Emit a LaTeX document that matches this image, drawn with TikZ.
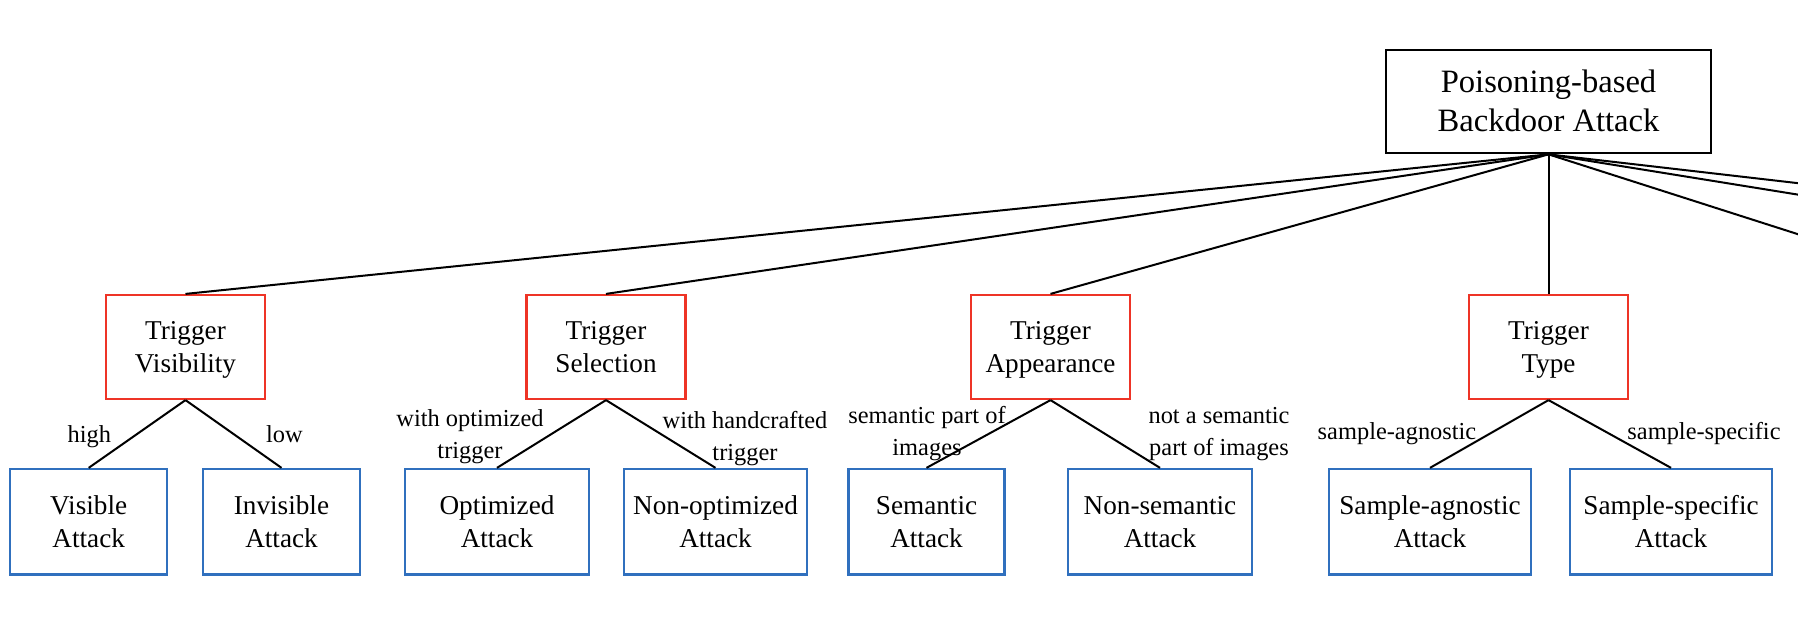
\documentclass[tikz,border=0pt]{standalone}
\usepackage{fontspec}
\setmainfont{Liberation Serif}
\definecolor{boxred}{RGB}{238,52,38}
\definecolor{boxblue}{RGB}{48,112,190}
\newcommand{\sline}[1]{\strut#1}
\newcommand{\rl}[1]{\rule[-3.5pt]{0pt}{17.5pt}#1}
\newcommand{\bl}[1]{\rule[-3.4pt]{0pt}{15.9pt}#1}
\begin{document}
\begin{tikzpicture}[x=0.5pt,y=-0.5pt,
  rootbox/.style={draw=black,line width=1.1pt,minimum width=162.5pt,minimum height=51.75pt,inner sep=0pt,align=center,font=\fontsize{16.3}{19.2}\selectfont},
  catbox/.style={draw=boxred,line width=1.1pt,minimum width=79.5pt,minimum height=52pt,inner sep=0pt,align=center,font=\fontsize{13.6}{16.3}\selectfont},
  leafbox/.style={draw=boxblue,line width=1.1pt,minimum height=52.75pt,inner sep=0pt,align=center,font=\fontsize{13.6}{16.3}\selectfont},
  lbl/.style={inner sep=0pt,align=center,font=\fontsize{12.2}{16}\selectfont},
  link/.style={draw=black,line width=1pt}]
\useasboundingbox (0,0) rectangle (1798,622);
\clip (0,0) rectangle (1798,622);
\node[rootbox] (root) at (1548.5,101.5) {\rl{Poisoning-based}\\\rl{Backdoor Attack}};
\node[catbox] (vis) at (185.5,347) {\bl{Trigger}\\\bl{Visibility}};
\node[catbox] (sel) at (606,347) {\bl{Trigger}\\\bl{Selection}};
\node[catbox] (app) at (1050.5,347) {\bl{Trigger}\\\bl{Appearance}};
\node[catbox] (typ) at (1548.5,347) {\bl{Trigger}\\\bl{Type}};
\coordinate (offa) at (2764,294.7);
\coordinate (offb) at (2418,294.7);
\coordinate (offc) at (1987,294.7);
\node[leafbox,minimum width=78.5pt] (visible) at (88.7,521.7) {\bl{Visible}\\\bl{Attack}};
\node[leafbox,minimum width=78.5pt] (invisible) at (281.5,521.7) {\bl{Invisible}\\\bl{Attack}};
\node[leafbox,minimum width=92pt] (optim) at (497,521.7) {\bl{Optimized}\\\bl{Attack}};
\node[leafbox,minimum width=91.5pt] (nonoptim) at (715.5,521.7) {\bl{Non-optimized}\\\bl{Attack}};
\node[leafbox,minimum width=78pt] (sem) at (926.5,521.7) {\bl{Semantic}\\\bl{Attack}};
\node[leafbox,minimum width=92.2pt] (nonsem) at (1160,521.7) {\bl{Non-semantic}\\\bl{Attack}};
\node[leafbox,minimum width=101pt] (agn) at (1430,521.7) {\bl{Sample-agnostic}\\\bl{Attack}};
\node[leafbox,minimum width=100.8pt] (spec) at (1671,521.7) {\bl{Sample-specific}\\\bl{Attack}};
\foreach \t in {vis,sel,app,typ} \draw[link] (root.south) -- (\t.north);
\foreach \t in {offa,offb,offc} \draw[link] (root.south) -- (\t);
\draw[link] (vis.south) -- (visible.north);
\draw[link] (vis.south) -- (invisible.north);
\draw[link] (sel.south) -- (optim.north);
\draw[link] (sel.south) -- (nonoptim.north);
\draw[link] (app.south) -- (sem.north);
\draw[link] (app.south) -- (nonsem.north);
\draw[link] (typ.south) -- (agn.north);
\draw[link] (typ.south) -- (spec.north);
\node[lbl] (lhigh) at (89.4,436) {\sline{high}};
\node[lbl] (llow) at (284.4,436) {\sline{low}};
\node[lbl] (lopt) at (470,436) {\sline{with optimized}\\\sline{trigger}};
\node[lbl] (lhand) at (745,438.5) {\sline{with handcrafted}\\\sline{trigger}};
\node[lbl] (lsem) at (927,433) {\sline{semantic part of}\\\sline{images}};
\node[lbl] (lnsem) at (1219,433) {\sline{not a semantic}\\\sline{part of images}};
\node[lbl] (lagn) at (1397,433) {\sline{sample-agnostic}};
\node[lbl] (lspec) at (1704,433) {\sline{sample-specific}};
\end{tikzpicture}
\end{document}
